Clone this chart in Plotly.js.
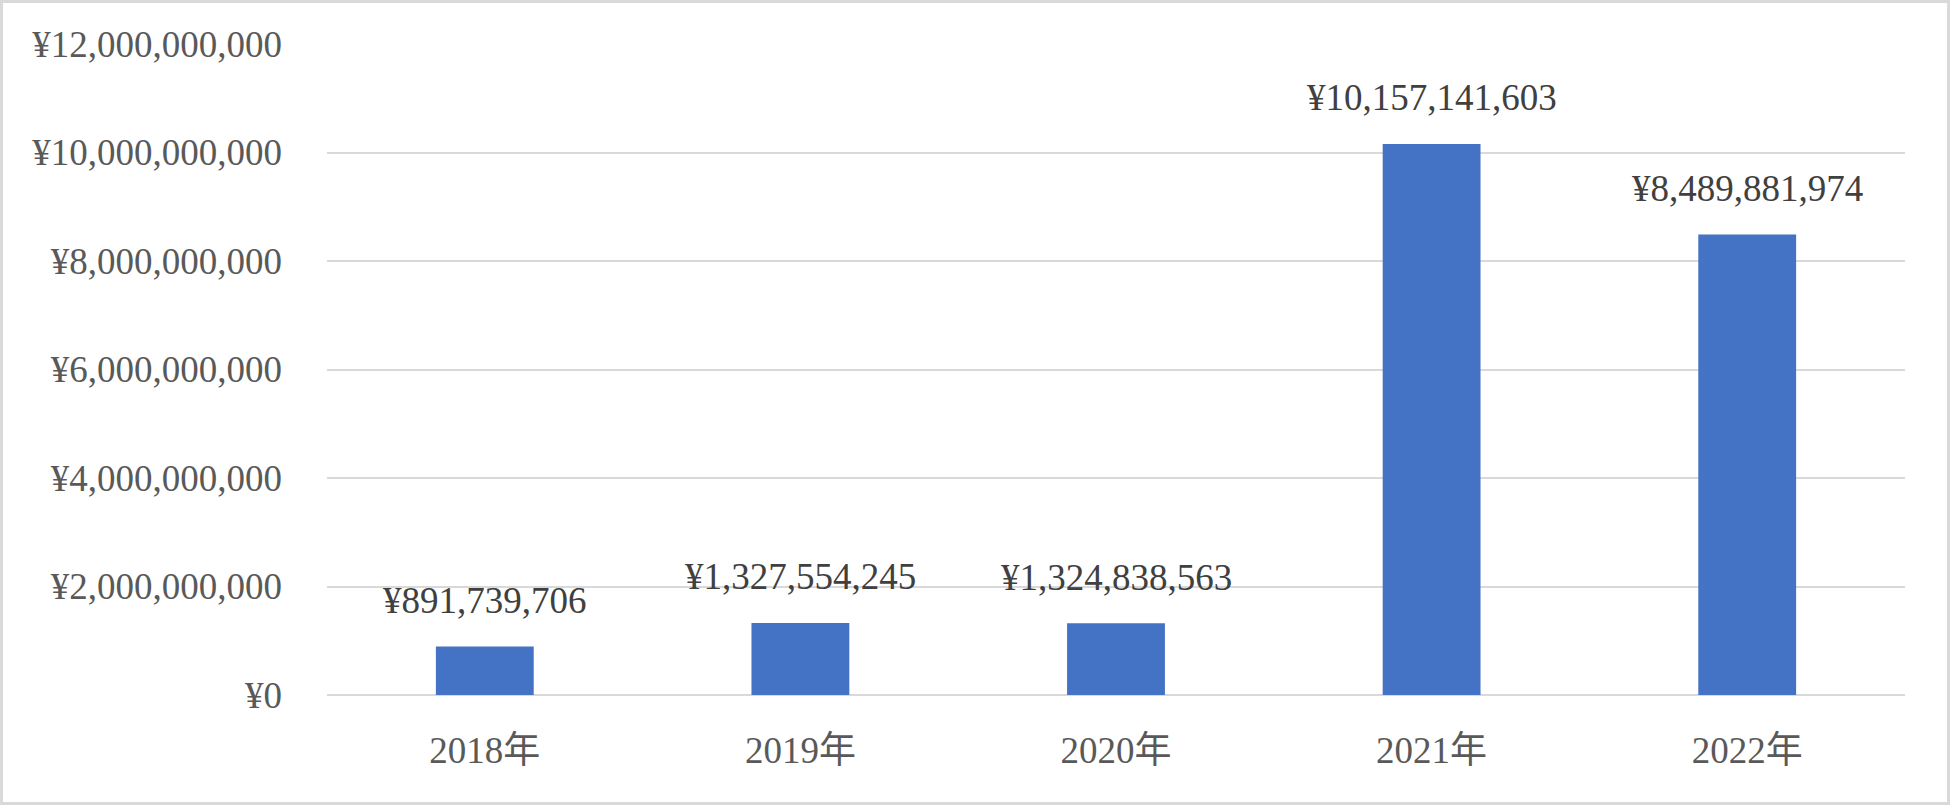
<!DOCTYPE html>
<html>
<head>
<meta charset="utf-8">
<script src="https://cdn.plot.ly/plotly-3.0.1.min.js"></script>
<style>
html,body{margin:0;padding:0;background:#fff;}
#chart{width:1950px;height:805px;box-sizing:border-box;border:3px solid #d9d9d9;}
</style>
</head>
<body>
<div id="chart"></div>
<script>
const categories = ["2018年", "2019年", "2020年", "2021年", "2022年"];
const values = [891739706, 1327554245, 1324838563, 10157141603, 8489881974];
const valueLabels = ["¥891,739,706", "¥1,327,554,245", "¥1,324,838,563", "¥10,157,141,603", "¥8,489,881,974"];
const tickValues = [0, 2000000000, 4000000000, 6000000000, 8000000000, 10000000000, 12000000000];
const tickLabels = ["¥0", "¥2,000,000,000", "¥4,000,000,000", "¥6,000,000,000", "¥8,000,000,000", "¥10,000,000,000", "¥12,000,000,000"];

const FONT = '"Liberation Serif", "Noto Sans CJK JP", serif';
const TXT = '#595959';
const FS = 37;

const trace = {
  type: 'bar',
  x: categories,
  y: values,
  marker: {color: '#4472C4'},
  hoverinfo: 'none'
};

const annotations = categories.map((c, i) => ({
  x: c, y: values[i], xref: 'x', yref: 'y',
  text: valueLabels[i], showarrow: false,
  yanchor: 'middle', yshift: 46,
  font: {family: FONT, size: FS, color: '#404040'}
}));

const layout = {
  width: 1944, height: 799,
  margin: {l: 324, r: 42, t: 40.5, b: 107, pad: 0},
  paper_bgcolor: '#fff', plot_bgcolor: '#fff',
  showlegend: false,
  bargap: 0.69,
  font: {family: FONT, size: FS, color: TXT},
  xaxis: {
    type: 'category',
    showgrid: false, zeroline: false, showline: false,
    ticks: '', ticklabelstandoff: 30,
    tickfont: {family: FONT, size: FS, color: TXT}
  },
  yaxis: {
    range: [0, 12000000000],
    tickmode: 'array', tickvals: tickValues, ticktext: tickLabels,
    showgrid: true, gridcolor: '#d9d9d9', gridwidth: 2,
    zeroline: true, zerolinecolor: '#d9d9d9', zerolinewidth: 2,
    showline: false, ticks: '', ticklabelstandoff: 44,
    tickfont: {family: FONT, size: FS, color: TXT}
  },
  annotations: annotations
};

Plotly.newPlot('chart', [trace], layout, {displayModeBar: false, staticPlot: true});
</script>
</body>
</html>
